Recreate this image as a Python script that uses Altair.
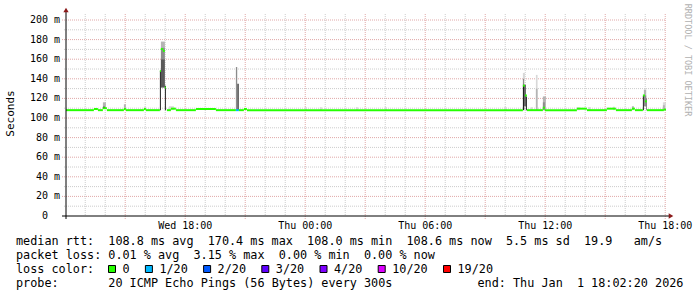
import altair as alt
import pandas as pd

def ts(s):
    d, hm = s.split()
    if hm.count(":") == 1:
        hm = hm + ":00"
    return ("2025-12-31T" if d == "31" else "2026-01-01T") + hm

# ---------------- data ----------------
# median rtt (ms) as step segments
med_start = ["31 12:02:20", "31 13:26", "31 13:38", "31 13:53", "31 14:05", "31 14:56", "31 15:02",
             "31 15:56", "31 16:02", "31 16:44", "31 16:47", "31 16:53", "31 16:59", "31 17:05",
             "31 17:17", "31 17:32", "31 18:32", "31 19:32", "31 20:32", "31 20:41", "31 20:56",
             "31 21:05", "01 10:53", "01 10:59", "01 11:05", "01 11:53", "01 11:59", "01 13:35",
             "01 14:05", "01 15:05", "01 15:32", "01 16:20", "01 16:29", "01 16:53", "01 16:59",
             "01 17:05", "01 17:56"]
med_end = ["31 13:26", "31 13:38", "31 13:53", "31 14:05", "31 14:56", "31 15:02", "31 15:56",
           "31 16:02", "31 16:44", "31 16:47", "31 16:53", "31 16:59", "31 17:02", "31 17:17",
           "31 17:32", "31 18:32", "31 19:32", "31 20:32", "31 20:41", "31 20:56", "31 21:05",
           "01 10:53", "01 10:59", "01 11:05", "01 11:53", "01 11:59", "01 13:35", "01 14:05",
           "01 15:05", "01 15:32", "01 16:20", "01 16:29", "01 16:53", "01 16:59", "01 17:05",
           "01 17:56", "01 18:02:20"]
med_value = [108.0, 109.2, 108.0, 110.0, 108.0, 109.2, 108.0, 109.2, 108.0, 148.0, 170.4, 168.5,
             131.0, 108.0, 109.5, 108.0, 109.2, 108.0, 108.0, 108.0, 109.2, 108.0, 133.0, 123.0,
             108.0, 110.5, 108.0, 109.5, 108.0, 109.5, 108.0, 109.5, 108.0, 123.0, 117.0, 108.0,
             108.6]
med_loss = ["0"] * 18 + ["1/20"] + ["0"] * 18

# smoke bands (spread of the 20 pings)
smoke_start = ["31 13:53", "31 13:53", "31 14:56", "31 15:56", "31 16:44", "31 16:47", "31 16:47",
               "31 16:47", "31 16:59", "31 17:11", "31 20:32", "31 20:36", "31 23:59", "01 00:44",
               "01 02:32", "01 03:59", "01 09:56", "01 10:53", "01 10:53", "01 10:53", "01 10:57",
               "01 11:02", "01 11:17", "01 11:32", "01 11:32", "01 11:53", "01 11:53", "01 13:35",
               "01 14:08", "01 15:23", "01 16:20", "01 16:53", "01 16:56", "01 16:56", "01 17:03",
               "01 17:53", "01 17:53"]
smoke_end = ["31 14:02", "31 13:59", "31 15:02", "31 16:02", "31 16:47", "31 16:59", "31 16:59",
             "31 16:59", "31 17:02", "31 17:26", "31 20:36", "31 20:41", "01 00:05", "01 00:50",
             "01 02:38", "01 04:05", "01 10:05", "01 10:57", "01 10:57", "01 10:59", "01 11:02",
             "01 11:05", "01 11:23", "01 11:37", "01 11:37", "01 12:02", "01 11:59", "01 13:44",
             "01 14:17", "01 15:29", "01 16:26", "01 16:56", "01 17:03", "01 17:03", "01 17:05",
             "01 18:02", "01 17:59"]
smoke_low = [110, 109.5, 109, 109, 108, 131, 160, 172, 108, 108, 108, 108, 108, 108, 108, 108, 108,
             108, 134, 140, 112, 108, 108, 108, 108, 108, 108, 108, 108, 108, 108, 108, 112, 112,
             108, 108, 108]
smoke_high = [116, 111.5, 114, 111.5, 148, 160, 172, 178, 133, 112, 152, 135, 111, 111, 111, 111,
              111, 134, 140, 146, 134, 122, 111, 144, 130, 122, 116, 111, 111, 111.5, 112, 122.5,
              129, 123, 120, 116, 113]
smoke_level = [2, 5, 2, 1, 5, 4, 3, 2, 5, 1, 3, 4, 1, 1, 1, 1, 1, 5, 3, 1, 4, 5, 1, 1, 2, 2, 3, 1,
               1, 1, 2, 5, 2, 3, 4, 1, 2]

# legend
loss_labels = ["0", "1/20", "2/20", "3/20", "4/20", "10/20", "19/20"]
loss_colors = ["#26ff00", "#00b8ff", "#0059ff", "#5e00ff", "#7e00ff", "#dd00ff", "#ff0000"]
smoke_levels = [1, 2, 3, 4, 5]
smoke_colors = ["#d8d8d8", "#b4b4b4", "#8c8c8c", "#5a5a5a", "#1e1e1e"]

# axes ticks
y_tick_values = [0, 20, 40, 60, 80, 100, 120, 140, 160, 180, 200]
y_tick_numbers = ["0", "20", "40", "60", "80", "100", "120", "140", "160", "180", "200"]
y_tick_units = ["", "m", "m", "m", "m", "m", "m", "m", "m", "m", "m"]
x_label_times = ["31 18:00", "01 00:00", "01 06:00", "01 12:00", "01 18:00"]

stat_rows = [
    ["median rtt:", "108.8 ms avg", "170.4 ms max", "108.0 ms min", "108.6 ms now", "5.5 ms sd", "19.9", "am/s"],
    ["packet loss:", "0.01 % avg", "3.15 % max", "0.00 % min", "0.00 % now"],
    ["probe:", "20 ICMP Echo Pings (56 Bytes) every 300s", "end: Thu Jan", "1 18:02:20 2026"],
]
stat_cols = [
    [0, 13, 27, 41, 55, 69, 80, 87],
    [0, 13, 25, 37, 49],
    [0, 13, 65, 79],
]

# ---------------- layout ----------------
W, H = 600, 202
LEFT, TOP = 66, 14
PXMS = 0.98
YMAX = H / PXMS
CH = 7.1
FONT = "DejaVu Sans Mono"

xs = alt.Scale(domain=[alt.DateTime(year=2025, month=12, date=31, hours=12, minutes=2, seconds=20),
                       alt.DateTime(year=2026, month=1, date=1, hours=18, minutes=2, seconds=20)])
ys = alt.Scale(domain=[0, YMAX], nice=False, zero=False)
loss_scale = alt.Scale(domain=loss_labels, range=loss_colors)

hours = pd.date_range("2025-12-31 13:00", "2026-01-01 18:00", freq="h")
grid_minor = pd.DataFrame({"t": [h.strftime("%Y-%m-%dT%H:%M:%S") for h in hours if h.hour % 3 != 0]})
grid_major = pd.DataFrame({"t": [h.strftime("%Y-%m-%dT%H:%M:%S") for h in hours if h.hour % 3 == 0]})

layers = []
layers.append(alt.Chart(pd.DataFrame({"v": list(range(10, 200, 20))})).mark_rule(
    color="#cccccc", strokeDash=[1, 1]).encode(
    y=alt.Y("v:Q", scale=ys, axis=None), x=alt.value(-2), x2=alt.value(W)))
layers.append(alt.Chart(pd.DataFrame({"v": y_tick_values[1:]})).mark_rule(
    color="#e0a8a8", strokeDash=[1, 1]).encode(
    y=alt.Y("v:Q", scale=ys, axis=None), x=alt.value(-4), x2=alt.value(W)))
layers.append(alt.Chart(grid_minor).mark_rule(color="#cccccc", strokeDash=[1, 1]).encode(
    x=alt.X("t:T", scale=xs, axis=None), y=alt.value(0), y2=alt.value(H)))
layers.append(alt.Chart(grid_major).mark_rule(color="#e0a8a8", strokeDash=[1, 1]).encode(
    x=alt.X("t:T", scale=xs, axis=None), y=alt.value(0), y2=alt.value(H + 3)))

smoke = pd.DataFrame({
    "s": [ts(v) for v in smoke_start], "e": [ts(v) for v in smoke_end],
    "lo": smoke_low, "hi": smoke_high, "level": smoke_level,
}).sort_values("level", kind="stable")
layers.append(alt.Chart(smoke).mark_rect().encode(
    x=alt.X("s:T", scale=xs, axis=None), x2="e:T",
    y=alt.Y("lo:Q", scale=ys, axis=None), y2="hi:Q",
    color=alt.Color("level:O", scale=alt.Scale(domain=smoke_levels, range=smoke_colors), legend=None)))

med = pd.DataFrame({"s": [ts(v) for v in med_start], "e": [ts(v) for v in med_end],
                    "v": med_value, "loss": med_loss})
layers.append(alt.Chart(med).mark_rule(strokeWidth=2).encode(
    x=alt.X("s:T", scale=xs, axis=None), x2="e:T",
    y=alt.Y("v:Q", scale=ys, axis=None),
    stroke=alt.Stroke("loss:N", scale=loss_scale, legend=None)))

# axis lines and arrows
one = pd.DataFrame({"a": [0]})
layers.append(alt.Chart(one).mark_rule(color="black").encode(
    x=alt.value(-4), x2=alt.value(W + 3), y=alt.value(H)))
layers.append(alt.Chart(one).mark_rule(color="black").encode(
    x=alt.value(0), y=alt.value(-2), y2=alt.value(H + 3)))
layers.append(alt.Chart(one).mark_point(shape="triangle-up", filled=True, color="#8b1a1a",
                                        size=28, opacity=1).encode(x=alt.value(0), y=alt.value(-4)))
layers.append(alt.Chart(one).mark_point(shape="triangle-right", filled=True, color="#8b1a1a",
                                        size=28, opacity=1).encode(x=alt.value(W + 5), y=alt.value(H)))

# y tick labels
ylab = pd.DataFrame({"v": y_tick_values, "num": y_tick_numbers, "unit": y_tick_units})
layers.append(alt.Chart(ylab).mark_text(font=FONT, fontSize=10, align="right", baseline="middle",
                                        color="black").encode(
    y=alt.Y("v:Q", scale=ys, axis=None), x=alt.value(48 - LEFT), text="num:N"))
layers.append(alt.Chart(ylab).mark_text(font=FONT, fontSize=10, align="left", baseline="middle",
                                        color="black").encode(
    y=alt.Y("v:Q", scale=ys, axis=None), x=alt.value(54 - LEFT), text="unit:N"))

# x tick labels
xlab = pd.DataFrame({"t": [ts(v) for v in x_label_times]})
layers.append(alt.Chart(xlab).mark_text(font=FONT, fontSize=10, align="center", baseline="alphabetic",
                                        color="black").encode(
    x=alt.X("t:T", scale=xs, axis=None), y=alt.value(228.5 - TOP),
    text=alt.Text("t:T", format="%a %H:%M")))

# y title
layers.append(alt.Chart(pd.DataFrame({"txt": ["Seconds"]})).mark_text(
    font=FONT, fontSize=11, angle=270, align="center", baseline="middle", color="black").encode(
    x=alt.value(11 - LEFT), y=alt.value(113.5 - TOP), text="txt:N"))

# watermark
layers.append(alt.Chart(pd.DataFrame({"txt": ["RRDTOOL / TOBI OETIKER"]})).mark_text(
    font=FONT, fontSize=8.5, angle=90, align="center", baseline="middle", color="#b0b0b0").encode(
    x=alt.value(688 - LEFT), y=alt.value(60 - TOP), text="txt:N"))

# statistics text
baselines = [245, 259, 287]
rows = []
for pieces, cols, base in zip(stat_rows, stat_cols, baselines):
    for p, c in zip(pieces, cols):
        rows.append({"txt": p, "px": 16 + c * CH - LEFT, "py": base - TOP})
layers.append(alt.Chart(pd.DataFrame(rows)).mark_text(
    font=FONT, fontSize=11.8, align="left", baseline="alphabetic", color="black").encode(
    x=alt.X("px:Q", scale=None, axis=None), y=alt.Y("py:Q", scale=None, axis=None), text="txt:N"))

# loss color legend
leg = []
xpos = 108.0
for lab in loss_labels:
    leg.append({"loss": lab, "sx": xpos + 4 - LEFT, "lx": xpos + 14.5 - LEFT, "py": 269 - TOP,
                "pyt": 273 - TOP})
    xpos = xpos + 14.5 + len(lab) * CH + 15.3
legdf = pd.DataFrame(leg)
layers.append(alt.Chart(pd.DataFrame({"txt": ["loss color:"], "px": [16 - LEFT], "py": [273 - TOP]})).mark_text(
    font=FONT, fontSize=11.8, align="left", baseline="alphabetic", color="black").encode(
    x=alt.X("px:Q", scale=None, axis=None), y=alt.Y("py:Q", scale=None, axis=None), text="txt:N"))
layers.append(alt.Chart(legdf).mark_square(size=49, filled=True, stroke="black", strokeWidth=1,
                                           opacity=1).encode(
    x=alt.X("sx:Q", scale=None, axis=None), y=alt.Y("py:Q", scale=None, axis=None),
    fill=alt.Fill("loss:N", scale=loss_scale, legend=None)))
layers.append(alt.Chart(legdf).mark_text(font=FONT, fontSize=11.8, align="left", baseline="alphabetic",
                                         color="black").encode(
    x=alt.X("lx:Q", scale=None, axis=None), y=alt.Y("pyt:Q", scale=None, axis=None), text="loss:N"))

chart = alt.layer(*layers).resolve_scale(
    color="independent", stroke="independent", fill="independent"
).properties(
    width=W, height=H,
    padding={"left": LEFT, "top": TOP, "right": 697 - LEFT - W, "bottom": 297 - TOP - H},
    autosize=alt.AutoSizeParams(type="none"),
    background="white",
).configure_view(stroke=None)

chart.save("out.html", embed_options={"renderer": "svg", "actions": False})
